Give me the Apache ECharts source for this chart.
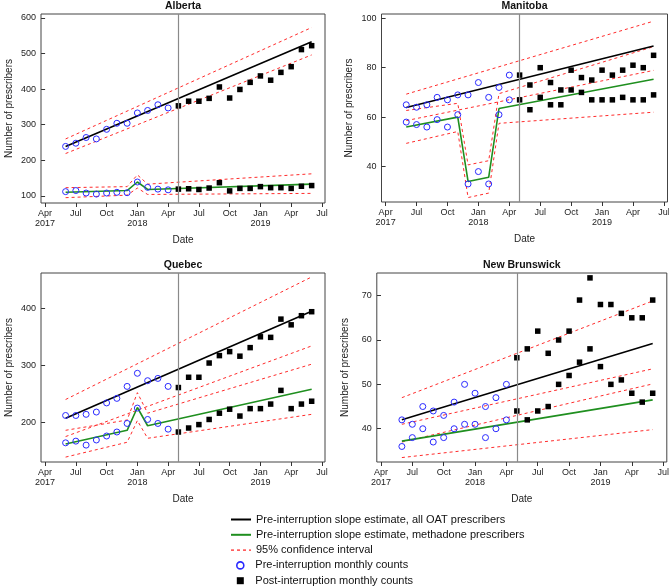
<!DOCTYPE html>
<html><head><meta charset="utf-8">
<script src="https://cdn.jsdelivr.net/npm/echarts@6/dist/echarts.min.js"></script>
<style>html,body{margin:0;padding:0;background:#fff}#c{width:669px;height:587px}</style>
</head><body><div id="c"></div>
<script>
// ---------- shared axis data ----------
const preMonths = ['2017-06','2017-07','2017-08','2017-09','2017-10','2017-11','2017-12','2018-01','2018-02','2018-03','2018-04'];
const postMonths = ['2018-05','2018-06','2018-07','2018-08','2018-09','2018-10','2018-11','2018-12','2019-01','2019-02','2019-03','2019-04','2019-05','2019-06'];
const interruptionMonth = '2018-05';
const xTickMonths = ['2017-04','2017-07','2017-10','2018-01','2018-04','2018-07','2018-10','2019-01','2019-04','2019-07'];
const xTickLabels = ['Apr\n2017','Jul','Oct','Jan\n2018','Apr','Jul','Oct','Jan\n2019','Apr','Jul'];
const panelTitles = ['Alberta','Manitoba','Quebec','New Brunswick'];
const legendNames = ['Pre-interruption slope estimate, all OAT prescribers','Pre-interruption slope estimate, methadone prescribers','95% confidence interval','Pre-interruption monthly counts','Post-interruption monthly counts'];
const straightFitMonths = ['2017-06','2019-06'];

// ---------- Alberta ----------
const albertaAllPre = [239,248,264,260,287,304,304,333,340,356,347];
const albertaAllPost = [353,366,366,374,406,375,399,419,437,425,447,463,511,522];
const albertaMethPre = [112,115,108,105,108,110,109,139,124,119,117];
const albertaMethPost = [119,120,118,122,137,114,121,121,126,123,123,121,127,129];
const albertaAllFit = [239,533];
const albertaAllCiUpper = [260,573];
const albertaAllCiLower = [219,496];
const albertaMethFitMonths = ['2017-06','2017-12','2018-01','2018-02','2019-06'];
const albertaMethFit = [110,115,139,118,133];
const albertaMethCiUpper = [123,126,159,133,162];
const albertaMethCiLower = [95,102,122,104,107];
const albertaYTicks = [100,200,300,400,500,600];

// ---------- Manitoba ----------
const manitobaAllPre = [65,64,65,68,67,69,69,74,68,72,77];
const manitobaAllPost = [77,73,80,74,71,79,76,75,79,77,79,81,80,85];
const manitobaMethPre = [58,57,56,59,56,61,33,38,33,61,67];
const manitobaMethPost = [67,63,68,65,65,71,70,67,67,67,68,67,67,69];
const manitobaAllFit = [63.9,88.8];
const manitobaAllCiUpper = [69.3,98.8];
const manitobaAllCiLower = [58.6,78.9];
const manitobaMethFitMonths = ['2017-06','2017-11','2017-12','2018-02','2018-03','2019-06'];
const manitobaMethFit = [56,60,34,35.7,63.5,75.3];
const manitobaMethCiUpper = [62.7,65.6,40.7,42.4,69.5,88.5];
const manitobaMethCiLower = [49.4,54.2,27.5,29.3,57.5,62];
const manitobaYTicks = [40,60,80,100];

// ---------- Quebec ----------
const quebecAllPre = [212,212,214,218,234,242,263,286,273,277,263];
const quebecAllPost = [261,279,279,304,317,324,316,331,350,349,381,371,387,394];
const quebecMethPre = [164,167,160,169,176,183,198,225,205,198,188];
const quebecMethPost = [183,190,196,205,216,223,211,224,224,232,256,224,232,237];
const quebecAllFit = [207,395];
const quebecAllCiUpper = [240,455];
const quebecAllCiLower = [175,334];
const quebecMethFitMonths = ['2017-06','2017-12','2018-01','2018-02','2019-06'];
const quebecMethFit = [162,186,226,194,258];
const quebecMethCiUpper = [186,204,252,216,302];
const quebecMethCiLower = [139,165,203,172,214];
const quebecYTicks = [200,300,400];

// ---------- New Brunswick ----------
const nbAllPre = [42,41,45,44,43,46,50,48,45,47,50];
const nbAllPost = [56,58,62,57,60,62,69,74,68,68,66,65,65,69];
const nbMethPre = [36,38,40,37,38,40,41,41,38,40,42];
const nbMethPost = [44,42,44,45,50,52,55,58,54,50,51,48,46,48];
const nbAllFit = [42,59.2];
const nbAllCiUpper = [47,68.8];
const nbAllCiLower = [37,50.1];
const nbMethFitMonths = ['2017-06','2019-06'];
const nbMethFit = [37.2,46.5];
const nbMethCiUpper = [41,53.5];
const nbMethCiLower = [33.5,39.8];
const nbYTicks = [40,50,60,70];

// ---------- assembly ----------
function mi(m){ const [y,mo]=m.split('-').map(Number); return (y-2017)*12 + (mo-4); }
function pairs(months, vals){ return months.map((m,i)=>[mi(m), vals[i]]); }

const panels = [
  {allPre:albertaAllPre, allPost:albertaAllPost, methPre:albertaMethPre, methPost:albertaMethPost,
   allFit:albertaAllFit, allUp:albertaAllCiUpper, allLo:albertaAllCiLower,
   methMonths:albertaMethFitMonths, methFit:albertaMethFit, methUp:albertaMethCiUpper, methLo:albertaMethCiLower, yTicks:albertaYTicks},
  {allPre:manitobaAllPre, allPost:manitobaAllPost, methPre:manitobaMethPre, methPost:manitobaMethPost,
   allFit:manitobaAllFit, allUp:manitobaAllCiUpper, allLo:manitobaAllCiLower,
   methMonths:manitobaMethFitMonths, methFit:manitobaMethFit, methUp:manitobaMethCiUpper, methLo:manitobaMethCiLower, yTicks:manitobaYTicks},
  {allPre:quebecAllPre, allPost:quebecAllPost, methPre:quebecMethPre, methPost:quebecMethPost,
   allFit:quebecAllFit, allUp:quebecAllCiUpper, allLo:quebecAllCiLower,
   methMonths:quebecMethFitMonths, methFit:quebecMethFit, methUp:quebecMethCiUpper, methLo:quebecMethCiLower, yTicks:quebecYTicks},
  {allPre:nbAllPre, allPost:nbAllPost, methPre:nbMethPre, methPost:nbMethPost,
   allFit:nbAllFit, allUp:nbAllCiUpper, allLo:nbAllCiLower,
   methMonths:nbMethFitMonths, methFit:nbMethFit, methUp:nbMethCiUpper, methLo:nbMethCiLower, yTicks:nbYTicks}
];

// layout (pixels / axis ranges)
const layout = [
  {left:41, top:14, width:284, height:189, ymin:80, ymax:611, xmax:27.3},
  {left:381.5, top:14, width:286, height:188, ymin:25.7, ymax:101.7, xmax:27.35},
  {left:41, top:273, width:284, height:189, ymin:130.4, ymax:461.9, xmax:27.3},
  {left:376.8, top:273, width:290, height:189, ymin:32.5, ymax:75.1, xmax:27.35}
];

const FONT = '"Liberation Sans", Arial, Helvetica, sans-serif';
const BLACK = '#000', GREEN = '#1f8f1f', RED = '#ff2b2b', BLUE = '#2a2aff';
const tickVals = xTickMonths.map(mi);
const labelMap = {}; tickVals.forEach((v,i)=>labelMap[v]=xTickLabels[i]);

const grids=[], xAxes=[], yAxes=[], series=[], titles=[];
const ciStyle = {color:RED, width:1, type:[3,3]};

layout.forEach((L,i)=>{
  const P = panels[i];
  grids.push({left:L.left, top:L.top, width:L.width, height:L.height, containLabel:false, outerBoundsMode:'none',
    show:true, borderColor:'#444', borderWidth:1, backgroundColor:'transparent'});
  xAxes.push({type:'value', gridIndex:i, min:-0.4, max:L.xmax,
    name:'Date', nameLocation:'middle', nameGap:32, nameTextStyle:{fontFamily:FONT, fontSize:10, color:'#222'},
    axisLine:{show:false}, splitLine:{show:false},
    axisTick:{show:true, length:4, inside:false, customValues:tickVals, lineStyle:{color:'#333'}},
    axisLabel:{customValues:tickVals, formatter:v=>labelMap[v]||'', fontFamily:FONT, fontSize:9, color:'#222', margin:5, lineHeight:10.5}
  });
  yAxes.push({type:'value', gridIndex:i, min:L.ymin, max:L.ymax,
    name:'Number of prescribers', nameLocation:'middle', nameGap:27, nameTextStyle:{fontFamily:FONT, fontSize:10, color:'#222'},
    axisLine:{show:false}, splitLine:{show:false},
    axisTick:{show:true, length:4, customValues:P.yTicks, lineStyle:{color:'#333'}},
    axisLabel:{customValues:P.yTicks, fontFamily:FONT, fontSize:9, color:'#222', margin:5}
  });
  titles.push({text:panelTitles[i], left:L.left + L.width/2, textAlign:'center', top:L.top-13, padding:0,
    textStyle:{fontFamily:FONT, fontSize:10.5, fontWeight:'bold', color:'#111'}});

  const ax = {xAxisIndex:i, yAxisIndex:i};
  [[straightFitMonths,P.allUp],[straightFitMonths,P.allLo],[P.methMonths,P.methUp],[P.methMonths,P.methLo]].forEach(([m,v])=>{
    series.push(Object.assign({type:'line', name:legendNames[2], color:RED, data:pairs(m,v), symbol:'none',
      itemStyle:{color:RED}, lineStyle:ciStyle, z:2, silent:true}, ax));
  });
  series.push(Object.assign({type:'line', name:legendNames[0], color:BLACK, data:pairs(straightFitMonths,P.allFit), symbol:'none',
    itemStyle:{color:BLACK}, lineStyle:{color:BLACK, width:1.6}, z:3,
    markLine:{symbol:'none', silent:true, label:{show:false}, lineStyle:{color:'#8a8a8a', width:1.2, type:'solid'},
      data:[{xAxis:mi(interruptionMonth)}]}}, ax));
  series.push(Object.assign({type:'line', name:legendNames[1], color:GREEN, data:pairs(P.methMonths,P.methFit), symbol:'none',
    itemStyle:{color:GREEN}, lineStyle:{color:GREEN, width:1.6}, z:3}, ax));
  const circ = {type:'scatter', name:legendNames[3], color:BLUE, symbol:'circle', symbolSize:6,
    itemStyle:{color:'rgba(0,0,0,0)', borderColor:BLUE, borderWidth:1, opacity:1}, z:4};
  const sq = {type:'scatter', name:legendNames[4], color:BLACK, symbol:'rect', symbolSize:5.5, itemStyle:{color:BLACK, opacity:1}, z:4};
  series.push(Object.assign({}, circ, {data:pairs(preMonths,P.allPre)}, ax));
  series.push(Object.assign({}, circ, {data:pairs(preMonths,P.methPre)}, ax));
  series.push(Object.assign({}, sq, {data:pairs(postMonths,P.allPost)}, ax));
  series.push(Object.assign({}, sq, {data:pairs(postMonths,P.methPost)}, ax));
});

const legendText = {fontFamily:FONT, fontSize:11, color:'#111', lineHeight:13};
const chart = echarts.init(document.getElementById('c'), null, {renderer:'canvas'});
chart.setOption({
  animation:false,
  backgroundColor:'#fff',
  title:titles,
  grid:grids, xAxis:xAxes, yAxis:yAxes, series:series,
  legend:[
    {data:[
       {name:legendNames[0], itemStyle:{opacity:0}, lineStyle:{color:BLACK, width:2}},
       {name:legendNames[1], itemStyle:{opacity:0}, lineStyle:{color:GREEN, width:2}},
       {name:legendNames[2], itemStyle:{opacity:0}, lineStyle:{color:RED, width:1.3, type:[3,3]}}],
     orient:'vertical', left:230, top:513, height:50, padding:0, itemWidth:20, itemHeight:11, itemGap:2.3,
     selectedMode:false, textStyle:legendText},
    {data:[
       {name:legendNames[3], icon:'circle', itemStyle:{color:'rgba(0,0,0,0)', borderColor:BLUE, borderWidth:1.6}},
       {name:legendNames[4], icon:'path://M0,0H10V10H0Z', itemStyle:{color:BLACK, borderWidth:0}}],
     orient:'vertical', left:236, top:558.9, height:40, padding:0, itemWidth:20, itemHeight:7, itemGap:2.3,
     selectedMode:false, textStyle:legendText}
  ]
});
</script></body></html>
